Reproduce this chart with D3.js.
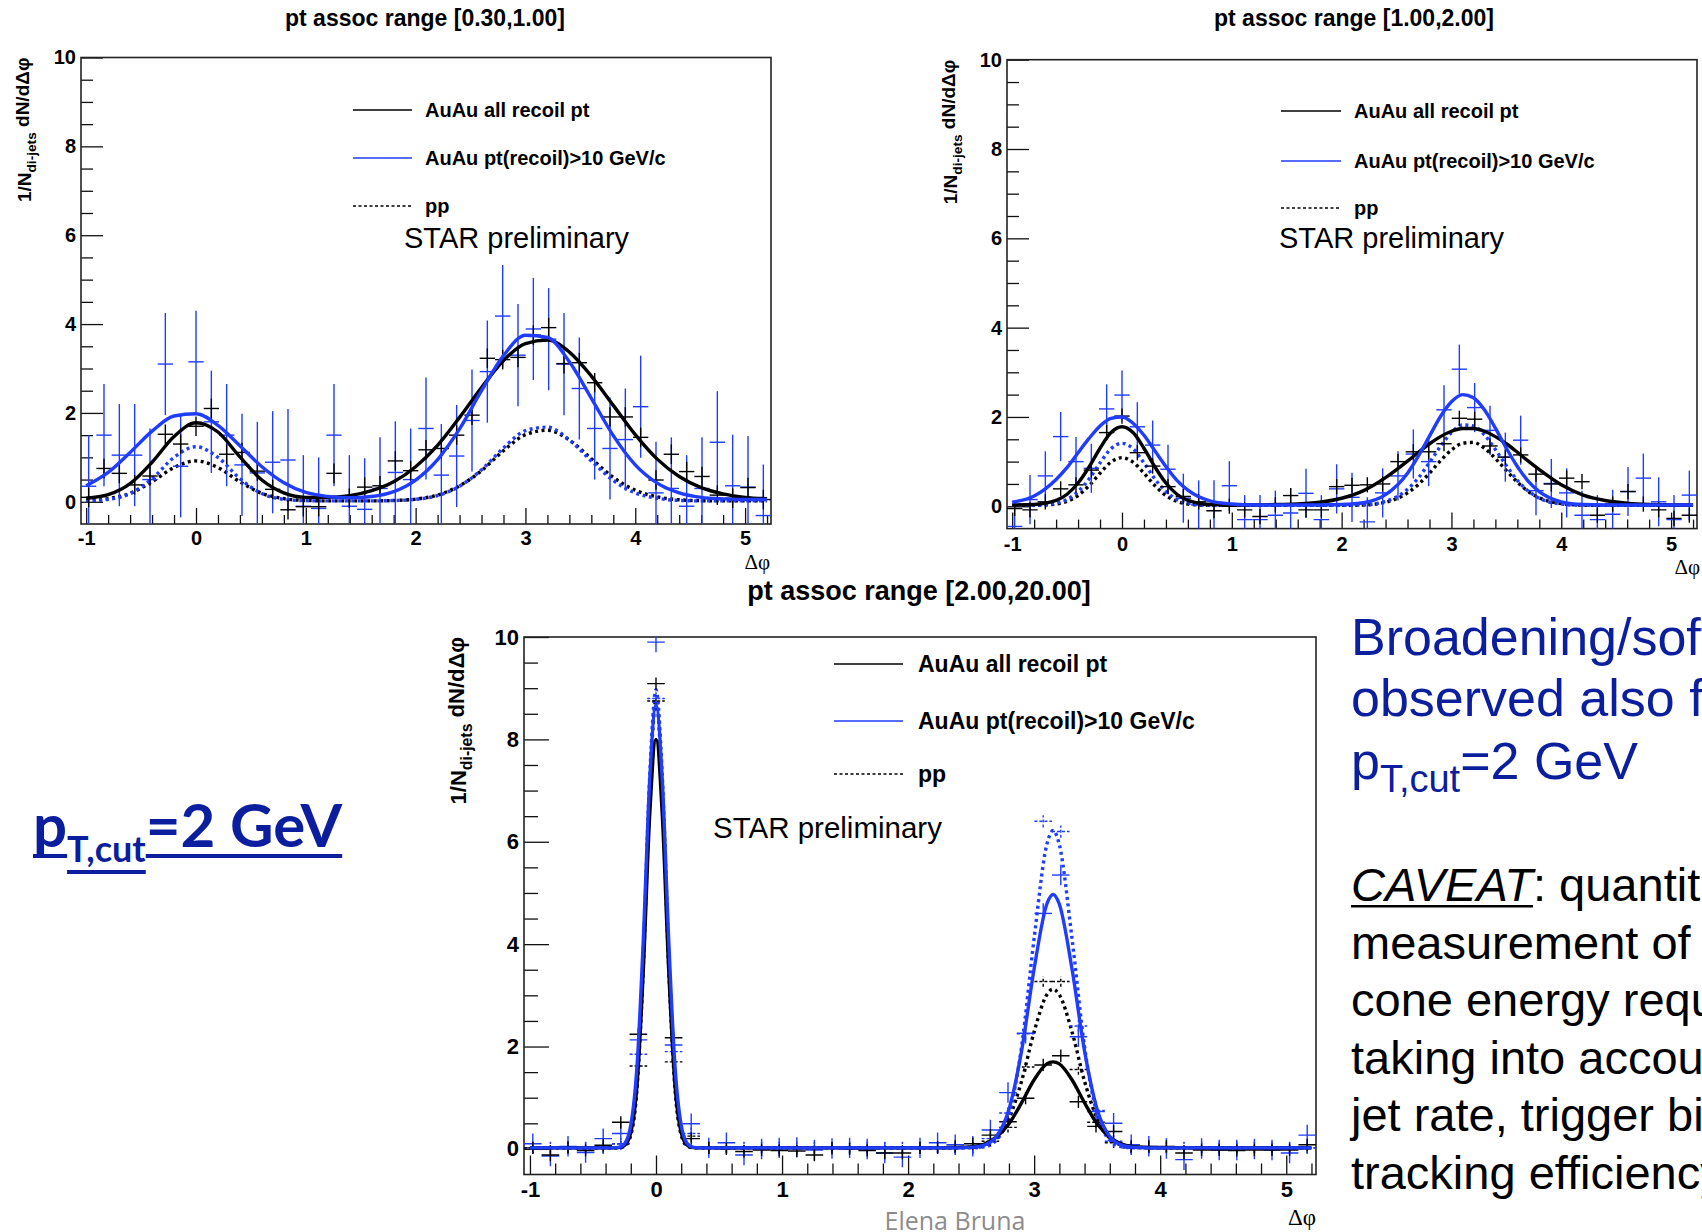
<!DOCTYPE html>
<html>
<head>
<meta charset="utf-8">
<script src="https://cdn.jsdelivr.net/npm/d3@7"></script>
<style>
body { margin: 0; background: #fff; }
svg { display: block; }
</style>
</head>
<body>
<script>

// 45 bins of d(phi) on [-pi/3, 5pi/3]
var nBins = 45;
var phiLo = -Math.PI / 3, phiHi = 5 * Math.PI / 3;
var binW = (phiHi - phiLo) / nBins;
var binCentres = d3.range(nBins).map(function(k) { return phiLo + (k + 0.5) * binW; });

var yTickValues = [0, 2, 4, 6, 8, 10];
var xTickValues = [-1, 0, 1, 2, 3, 4, 5];

var titles = ['pt assoc range [0.30,1.00]', 'pt assoc range [1.00,2.00]', 'pt assoc range [2.00,20.00]'];
var legendLabels = ['AuAu all recoil pt', 'AuAu pt(recoil)>10 GeV/c', 'pp'];

// ---- fit curves (x grid + values) ----
var grid1 = [-1.0,-0.8,-0.6,-0.4,-0.2,0,0.2,0.4,0.6,0.8,1.0,1.2,1.4,1.6,1.8,2.0,2.2,2.4,2.6,2.8,3.0,3.2,3.4,3.6,3.8,4.0,4.2,4.4,4.6,4.8,5.0,5.2];
var p1AuAll  = [0.08,0.16,0.41,0.89,1.47,1.78,1.57,1.01,0.49,0.20,0.10,0.10,0.14,0.25,0.45,0.79,1.27,1.90,2.57,3.18,3.56,3.64,3.37,2.83,2.17,1.51,0.96,0.57,0.32,0.18,0.10,0.07];
var p1AuHigh = [0.36,0.66,1.11,1.59,1.93,1.98,1.72,1.26,0.79,0.43,0.21,0.12,0.09,0.12,0.23,0.49,0.95,1.64,2.50,3.29,3.75,3.70,3.15,2.33,1.49,0.83,0.42,0.20,0.10,0.065,0.05,0.05];
var p1PP     = [0.03,0.07,0.19,0.45,0.77,0.92,0.77,0.45,0.19,0.07,0.03,0.02,0.02,0.02,0.03,0.06,0.15,0.36,0.70,1.15,1.51,1.61,1.39,0.97,0.55,0.26,0.11,0.045,0.025,0.02,0.02,0.02];
var p1PPHigh = [0.025,0.055,0.185,0.52,1.00,1.24,1.00,0.52,0.185,0.055,0.025,0.02,0.02,0.02,0.028,0.055,0.14,0.35,0.72,1.21,1.60,1.68,1.39,0.92,0.48,0.20,0.08,0.03,0.02,0.02,0.02,0.02];

var grid2 = [-1.0,-0.8,-0.6,-0.5,-0.4,-0.3,-0.2,-0.1,0,0.1,0.2,0.3,0.4,0.5,0.6,0.8,1.0,1.2,1.4,1.6,1.8,2.0,2.2,2.4,2.6,2.7,2.8,2.9,3.0,3.1,3.2,3.3,3.4,3.5,3.6,3.7,3.8,4.0,4.2,4.4,4.6,4.8,5.0,5.2];
var p2AuAll  = [0.03,0.04,0.13,0.27,0.52,0.88,1.30,1.65,1.78,1.65,1.30,0.88,0.52,0.27,0.13,0.04,0.03,0.03,0.04,0.05,0.09,0.18,0.35,0.64,1.01,1.21,1.40,1.56,1.68,1.74,1.74,1.68,1.56,1.40,1.21,1.01,0.82,0.48,0.25,0.13,0.07,0.04,0.03,0.03];
var p2AuHigh = [0.09,0.23,0.60,0.87,1.20,1.52,1.80,1.97,2.00,1.86,1.59,1.24,0.89,0.58,0.36,0.12,0.05,0.03,0.03,0.03,0.03,0.04,0.08,0.26,0.74,1.13,1.57,2.01,2.34,2.50,2.43,2.16,1.75,1.30,0.89,0.56,0.33,0.10,0.04,0.03,0.03,0.03,0.03,0.03];
var p2PP     = [0.02,0.02,0.05,0.11,0.24,0.46,0.74,0.99,1.09,0.99,0.74,0.46,0.24,0.11,0.05,0.02,0.02,0.02,0.02,0.02,0.02,0.02,0.03,0.09,0.30,0.49,0.74,1.02,1.26,1.41,1.43,1.30,1.07,0.80,0.54,0.33,0.19,0.06,0.025,0.02,0.02,0.02,0.02,0.02];
var p2PPHigh = [0.02,0.02,0.07,0.15,0.33,0.61,0.97,1.29,1.41,1.29,0.97,0.61,0.33,0.15,0.07,0.02,0.02,0.02,0.02,0.02,0.02,0.02,0.03,0.11,0.38,0.64,0.98,1.34,1.65,1.82,1.80,1.60,1.27,0.91,0.58,0.34,0.18,0.05,0.02,0.02,0.02,0.02,0.02,0.02];

var grid3 = [-1.0,-0.6,-0.4,-0.3,-0.25,-0.2,-0.15,-0.1,-0.05,0,0.05,0.1,0.15,0.2,0.25,0.3,0.4,0.6,1.0,1.5,2.0,2.3,2.5,2.6,2.7,2.8,2.9,3.0,3.1,3.15,3.2,3.3,3.4,3.5,3.6,3.7,3.8,4.0,4.5,5.0,5.2];
var p3AuAll  = [0.02,0.02,0.02,0.025,0.07,0.32,1.27,3.53,6.52,8.00,6.52,3.53,1.27,0.32,0.07,0.025,0.02,0.02,0.02,0.02,0.02,0.02,0.04,0.09,0.23,0.49,0.90,1.35,1.66,1.70,1.66,1.35,0.90,0.49,0.23,0.09,0.04,0.02,0.02,0.02,0.02];
var p3AuHigh = [0.02,0.02,0.02,0.03,0.10,0.46,1.64,4.13,7.20,8.67,7.20,4.13,1.64,0.46,0.10,0.03,0.02,0.02,0.02,0.02,0.02,0.02,0.03,0.07,0.24,0.77,1.91,3.52,4.78,4.97,4.78,3.52,1.91,0.77,0.24,0.07,0.03,0.02,0.02,0.02,0.02];
var p3PP     = [0.02,0.02,0.02,0.02,0.05,0.27,1.20,3.62,7.02,8.77,7.02,3.62,1.20,0.27,0.05,0.02,0.02,0.02,0.02,0.02,0.02,0.02,0.03,0.07,0.21,0.59,1.32,2.29,3.01,3.12,3.01,2.29,1.32,0.59,0.21,0.07,0.03,0.02,0.02,0.02,0.02];
var p3PPHigh = [0.02,0.02,0.02,0.02,0.07,0.33,1.36,3.87,7.27,8.97,7.27,3.87,1.36,0.33,0.07,0.02,0.02,0.02,0.02,0.02,0.02,0.02,0.02,0.04,0.17,0.67,1.99,4.12,5.94,6.22,5.94,4.12,1.99,0.67,0.17,0.04,0.02,0.02,0.02,0.02,0.02];

// ---- data points per bin (45 bins) ----
var p1BlueData  = [0.35,1.5,1.05,1.05,0.5,3.1,0.8,3.15,1.8,1.5,0.83,0.65,0.89,0.94,-0.1,-0.15,1.5,-0.1,-0.17,0.3,0.66,0.5,1.65,0.6,1.03,1.83,2.93,4.18,3.3,3.89,3.66,3.1,2.55,1.65,1.2,1.4,2.14,0.2,0.3,-0.1,0.3,1.34,0.36,0.33,-0.31];
var p1BlackData = [0.1,0.75,0.64,0.38,0.58,1.52,1.3,1.7,2.1,1.07,1.11,0.69,0.28,-0.18,-0.11,-0.11,0.64,0.08,0.33,0.36,0.92,0.7,1.17,1.2,1.5,1.95,3.23,3.2,3.25,3.75,3.92,3.11,3.13,2.68,1.91,1.91,1.45,0.49,1.07,0.68,0.57,0.15,0.08,0.32,0.05];
var p2BlueData  = [-0.45,0.15,0.68,1.56,1.0,0.85,2.18,2.49,1.78,1.37,0.83,0.18,0.03,0.03,0.46,-0.3,-0.3,-0.2,-0.15,0.29,-0.3,0.39,0.2,-0.35,0.3,0.68,1.17,1.0,2.16,3.07,2.21,1.7,1.1,1.48,0.35,0.51,0.3,-0.2,-0.3,-0.18,0.33,0.63,0.1,-0.3,0.25];
var p2BlackData = [-0.05,-0.08,0.1,0.39,0.48,0.81,1.65,2.02,1.2,0.9,0.44,0.22,0.1,-0.1,0,-0.08,-0.23,0.03,0.24,-0.08,-0.08,0.44,0.47,0.48,0.5,1.0,1.22,1.22,1.4,1.97,1.95,1.35,1.1,1.15,0.72,0.5,0.63,0.55,-0.2,0.05,0.33,0.05,-0.08,-0.27,-0.2];
var p3BlueData  = [0.1,-0.14,0.05,-0.07,0.2,0.3,2.13,9.9,2.03,0.49,0.02,0.12,-0.12,0,0.02,0.03,-0.02,0.01,0.02,0,-0.08,-0.16,0.02,0.12,0.08,0.05,0.37,1.1,2.26,4.6,5.35,2.19,0.73,0.5,0.08,0.05,0.01,-0.21,0.01,-0.02,-0.02,0,-0.02,-0.08,0.27];
var p3BlackData = [0.02,-0.12,0.03,-0.03,0.07,0.52,2.24,9.09,2.17,0.2,0.02,0,-0.05,-0.02,-0.03,-0.04,-0.12,0.01,0,-0.03,-0.08,-0.08,0.02,0.03,0.05,0.1,0.27,0.53,0.99,1.64,1.82,0.92,0.44,0.34,0.05,0.05,0.05,-0.08,-0.02,-0.02,-0.03,-0.02,-0.02,-0.02,0.08];
var p3PPBlackData = [0.02,0.02,0.02,0.02,0.02,0.1,1.62,8.75,1.7,0.25,0.02,0.02,0.02,0.02,0.02,0.02,0.02,0.02,0.02,0.02,0.02,0.02,0.02,0.02,0.02,0.02,0.15,0.42,1.6,3.27,3.27,1.55,0.52,0.12,0.02,0.02,0.02,0.02,0.02,0.02,0.02,0.02,0.02,0.02,0.02];
var p3PPBlueData  = [0.02,0.02,0.02,0.02,0.02,0.1,1.85,8.8,1.9,0.3,0.02,0.02,0.02,0.02,0.02,0.02,0.02,0.02,0.02,0.02,0.02,0.02,0.02,0.02,0.02,0.02,0.2,0.7,2.25,6.4,6.2,2.4,0.75,0.15,0.02,0.02,0.02,0.02,0.02,0.02,0.02,0.02,0.02,0.02,0.02];

// typical error bar half-heights: [blue, black]
var p1Errors = [1.15, 0.22];
var p2Errors = [0.55, 0.17];
var p3Errors = [0.2, 0.12];

var black = '#000', blue = '#1f3cff';
var textBlue = '#0a1e9e';

var svg = d3.select('body').append('svg')
    .attr('width', 1702)
    .attr('height', 1232)
    .style('background', '#fff');

var panels = [
    {id: 1, x: 81, y: 57.5, w: 690, h: 466.5, title: titles[0], titleX: 425, titleY: 26, titleSize: 23,
     tickSize: 20, legSize: 20, starSize: 29, axSize: 19,
     majY: 22, minY: 12, majX: 16, minX: 9, xLabOff: 20.6,
     yTitleX: 31, dphiX: 770, dphiY: 569,
     leg: {x1: 353, x2: 412, tx: 425, rows: [110, 158, 206]}, star: {x: 404, y: 248},
     grid: grid1, curves: [p1PP, p1PPHigh, p1AuAll, p1AuHigh],
     blueData: p1BlueData, blackData: p1BlackData, err: p1Errors},
    {id: 2, x: 1007, y: 59.7, w: 690, h: 468.9, title: titles[1], titleX: 1354, titleY: 26, titleSize: 23,
     tickSize: 20, legSize: 20, starSize: 29, axSize: 19,
     majY: 22, minY: 12, majX: 16, minX: 9, xLabOff: 22,
     yTitleX: 957, dphiX: 1700, dphiY: 574,
     leg: {x1: 1281, x2: 1341, tx: 1354, rows: [111, 161, 208]}, star: {x: 1279, y: 248},
     grid: grid2, curves: [p2PP, p2PPHigh, p2AuAll, p2AuHigh],
     blueData: p2BlueData, blackData: p2BlackData, err: p2Errors},
    {id: 3, x: 524, y: 637, w: 792, h: 537.5, title: titles[2], titleX: 919, titleY: 600, titleSize: 27,
     tickSize: 22, legSize: 23, starSize: 29.5, axSize: 22,
     majY: 25, minY: 14, majX: 19, minX: 11, xLabOff: 22.5,
     yTitleX: 466, dphiX: 1316, dphiY: 1225,
     leg: {x1: 834, x2: 903, tx: 918, rows: [664, 721, 774]}, star: {x: 713, y: 838},
     grid: grid3, curves: [p3PP, p3PPHigh, p3AuAll, p3AuHigh],
     blueData: p3BlueData, blackData: p3BlackData, err: p3Errors,
     ppBlack: p3PPBlackData, ppBlue: p3PPBlueData}
];

panels.forEach(drawPanel);

function drawPanel(p) {
    var x = d3.scaleLinear().domain([phiLo, phiHi]).range([p.x, p.x + p.w]);
    var y = d3.scaleLinear().domain([-0.5, 10]).range([p.y + p.h, p.y]);
    var g = svg.append('g');

    svg.append('clipPath').attr('id', 'clip' + p.id)
        .append('rect')
        .attr('x', p.x).attr('y', p.y).attr('width', p.w).attr('height', p.h);

    // title
    g.append('text')
        .attr('x', p.titleX).attr('y', p.titleY)
        .attr('text-anchor', 'middle')
        .style('font', 'bold ' + p.titleSize + 'px "Liberation Sans", Arial, sans-serif')
        .text(p.title);

    // y axis (ticks point inward)
    var minorY = d3.range(0, 21).map(function(i) { return i / 2; })
        .filter(function(v) { return yTickValues.indexOf(v) < 0; });
    g.append('g').attr('transform', 'translate(' + p.x + ',0)')
        .call(d3.axisLeft(y).tickValues(yTickValues).tickSizeInner(-p.majY).tickSizeOuter(0)
            .tickPadding(5).tickFormat(function(d) { return String(d); }));
    g.append('g').attr('transform', 'translate(' + p.x + ',0)')
        .call(d3.axisLeft(y).tickValues(minorY).tickSizeInner(-p.minY).tickSizeOuter(0).tickFormat(''));

    var minorX = d3.range(-5, 27).map(function(i) { return i / 5; })
        .filter(function(v) { return Math.abs(v - Math.round(v)) > 1e-6; });
    g.append('g').attr('transform', 'translate(0,' + (p.y + p.h) + ')')
        .call(d3.axisBottom(x).tickValues(xTickValues).tickSizeInner(-p.majX).tickSizeOuter(0)
            .tickPadding(p.xLabOff - 0.71 * p.tickSize).tickFormat(function(d) { return String(d); }));
    g.append('g').attr('transform', 'translate(0,' + (p.y + p.h) + ')')
        .call(d3.axisBottom(x).tickValues(minorX).tickSizeInner(-p.minX).tickSizeOuter(0).tickFormat(''));

    g.selectAll('.domain').remove();
    g.selectAll('.tick line').attr('stroke', '#111').attr('stroke-width', 1.3);
    g.selectAll('.tick text')
        .attr('fill', '#000')
        .style('font', 'bold ' + p.tickSize + 'px "Liberation Sans", Arial, sans-serif');

    // frame
    g.append('rect')
        .attr('x', p.x).attr('y', p.y).attr('width', p.w).attr('height', p.h)
        .attr('fill', 'none').attr('stroke', '#222').attr('stroke-width', 1.6);

    // y title
    var yt = g.append('text')
        .attr('transform', 'translate(' + p.yTitleX + ',' + p.y + ') rotate(-90)')
        .attr('text-anchor', 'end')
        .style('font', 'bold ' + p.axSize + 'px "Liberation Sans", Arial, sans-serif');
    yt.append('tspan').text('1/N');
    yt.append('tspan').attr('dy', '0.35em').style('font-size', (p.axSize * 0.72) + 'px').text('di-jets');
    yt.append('tspan').attr('dy', '-0.35em').text(' dN/d\u0394\u03c6');

    // x title
    g.append('text')
        .attr('x', p.dphiX).attr('y', p.dphiY)
        .attr('text-anchor', 'end')
        .style('font', (p.tickSize + 1) + 'px "Liberation Serif", "DejaVu Serif", serif')
        .text('\u0394\u03c6');

    var plot = g.append('g').attr('clip-path', 'url(#clip' + p.id + ')');

    var line = d3.line()
        .x(function(d) { return x(d[0]); })
        .y(function(d) { return y(d[1]); })
        .curve(d3.curveMonotoneX);

    function pairs(vals) {
        return p.grid.map(function(gx, i) { return [gx, vals[i]]; });
    }

    function crosses(vals, err, colour, dash) {
        var sel = plot.append('g')
            .attr('stroke', colour)
            .attr('stroke-width', 1.4)
            .attr('stroke-dasharray', dash || null);
        sel.selectAll('line.h').data(vals).enter().append('line')
            .attr('x1', function(d, i) { return x(binCentres[i] - binW / 2); })
            .attr('x2', function(d, i) { return x(binCentres[i] + binW / 2); })
            .attr('y1', function(d) { return y(d); })
            .attr('y2', function(d) { return y(d); });
        if (err > 0) {
            sel.selectAll('line.v').data(vals).enter().append('line')
                .attr('x1', function(d, i) { return x(binCentres[i]); })
                .attr('x2', function(d, i) { return x(binCentres[i]); })
                .attr('y1', function(d) { return y(d - err); })
                .attr('y2', function(d) { return y(d + err); });
        }
    }

    // pp (dotted) fits
    plot.append('path').datum(pairs(p.curves[0]))
        .attr('d', line).attr('fill', 'none').attr('stroke', black)
        .attr('stroke-width', 3.4).attr('stroke-dasharray', '3,3.5');
    plot.append('path').datum(pairs(p.curves[1]))
        .attr('d', line).attr('fill', 'none').attr('stroke', blue)
        .attr('stroke-width', 3.4).attr('stroke-dasharray', '3,3.5');

    if (p.ppBlack) {
        crosses(p.ppBlack, 0.1, black, '3,2');
        crosses(p.ppBlue, 0.12, blue, '3,2');
    }
    crosses(p.blueData, p.err[0], blue);
    crosses(p.blackData, p.err[1], black);

    // AuAu fits
    plot.append('path').datum(pairs(p.curves[2]))
        .attr('d', line).attr('fill', 'none').attr('stroke', black).attr('stroke-width', 3.4);
    plot.append('path').datum(pairs(p.curves[3]))
        .attr('d', line).attr('fill', 'none').attr('stroke', blue).attr('stroke-width', 3.4);

    // legend
    var legStyles = [
        {c: black, dash: null},
        {c: blue, dash: null},
        {c: black, dash: '3,2.5'}
    ];
    legStyles.forEach(function(s, i) {
        g.append('line')
            .attr('x1', p.leg.x1).attr('x2', p.leg.x2)
            .attr('y1', p.leg.rows[i]).attr('y2', p.leg.rows[i])
            .attr('stroke', s.c).attr('stroke-width', 1.6)
            .attr('stroke-dasharray', s.dash);
        g.append('text')
            .attr('x', p.leg.tx).attr('y', p.leg.rows[i] + p.legSize * 0.36)
            .style('font', 'bold ' + p.legSize + 'px "Liberation Sans", Arial, sans-serif')
            .text(legendLabels[i]);
    });

    g.append('text')
        .attr('x', p.star.x).attr('y', p.star.y)
        .style('font', p.starSize + 'px "Liberation Sans", Arial, sans-serif')
        .text('STAR preliminary');
}

// ---- slide text ----
function underline(tspan, dy, thick, colour) {
    var node = tspan.node();
    var n = node.getNumberOfChars();
    var x0 = node.getStartPositionOfChar(0).x;
    var last = node.getEndPositionOfChar(n - 1);
    svg.append('rect')
        .attr('x', x0).attr('y', last.y + dy)
        .attr('width', last.x - x0).attr('height', thick)
        .attr('fill', colour);
}

var left = svg.append('text')
    .attr('x', 33).attr('y', 847)
    .attr('fill', textBlue)
    .style('font', 'bold 60px Lato, "Open Sans", sans-serif');
var l1 = left.append('tspan').text('p');
var l2 = left.append('tspan').attr('dy', 15).style('font-size', '36px').text('T,cut');
var l3 = left.append('tspan').attr('dy', -15).text('=2 GeV');
underline(l1, 7, 4, textBlue);
underline(l2, 8, 4, textBlue);
underline(l3, 7, 4, textBlue);

var blueLines = [
    {y: 655, parts: [['Broadening/softening', 0]]},
    {y: 716, parts: [['observed also for', 0]]},
    {y: 779, parts: [['p', 0], ['T,cut', 1], ['=2 GeV', 0]]}
];
blueLines.forEach(function(ln) {
    var t = svg.append('text')
        .attr('x', 1351).attr('y', ln.y)
        .attr('fill', textBlue)
        .style('font', '52px "Liberation Sans", Arial, sans-serif');
    var shift = 0;
    ln.parts.forEach(function(pt) {
        var target = pt[1] ? 13 : 0;
        t.append('tspan')
            .attr('dy', target - shift)
            .style('font-size', pt[1] ? '38px' : null)
            .text(pt[0]);
        shift = target;
    });
});

var blackLines = ['measurement of', 'cone energy requires', 'taking into account',
    'jet rate, trigger bias', 'tracking efficiency'];
var cav = svg.append('text')
    .attr('x', 1351).attr('y', 901)
    .style('font', '47px "Liberation Sans", Arial, sans-serif');
var cavWord = cav.append('tspan').style('font-style', 'italic').text('CAVEAT');
cav.append('tspan').text(': quantitative');
underline(cavWord, 4, 2.5, '#000');

blackLines.forEach(function(s, i) {
    svg.append('text')
        .attr('x', 1351).attr('y', 901 + 57.5 * (i + 1))
        .style('font', '47px "Liberation Sans", Arial, sans-serif')
        .text(s);
});

svg.append('text')
    .attr('x', 955).attr('y', 1230)
    .attr('text-anchor', 'middle')
    .attr('fill', '#8c8c8c')
    .style('font', '25px "Open Sans", sans-serif')
    .text('Elena Bruna');

</script>
</body>
</html>
